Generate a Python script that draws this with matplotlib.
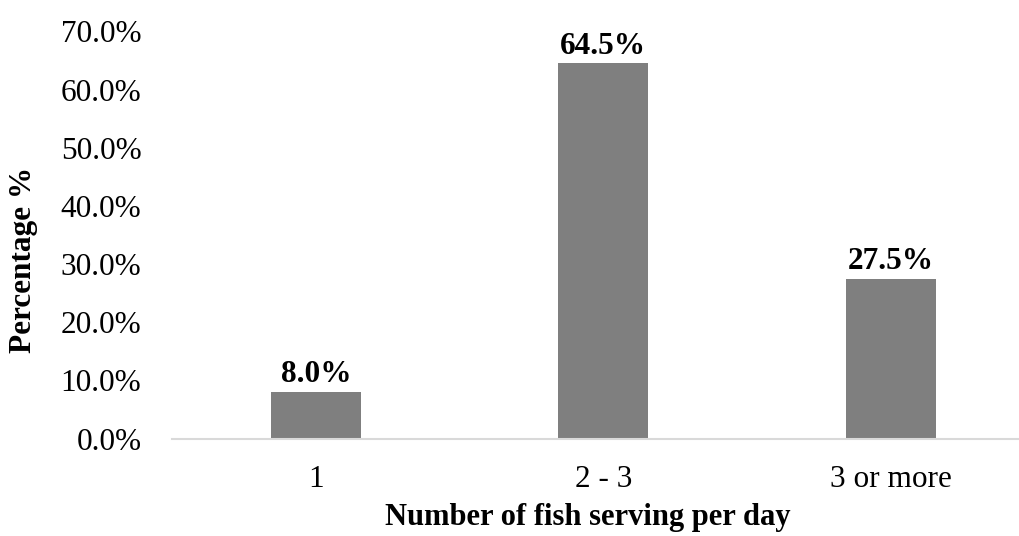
import matplotlib
matplotlib.use('Agg')
import matplotlib.pyplot as plt
from matplotlib.ticker import FuncFormatter

categories = ['1', '2 - 3', '3 or more']
percentages = [8.0, 64.5, 27.5]
y_ticks = [0, 10, 20, 30, 40, 50, 60, 70]

plt.rcParams['font.family'] = ['Liberation Serif', 'DejaVu Serif']

W, H = 1019, 536
fig = plt.figure(figsize=(W / 100, H / 100), dpi=100)
ax = fig.add_axes([172 / W, 97.5 / H, 862.5 / W, 407 / H])

x = list(range(len(categories)))
bars = ax.bar(x, percentages, width=0.313, color='#7f7f7f')

ax.set_xlim(-0.5, len(categories) - 0.5)
ax.set_ylim(0, 70)
ax.set_yticks(y_ticks)
ax.yaxis.set_major_formatter(FuncFormatter(lambda v, p: f'{v:.1f}%'))
ax.set_xticks(x)
ax.set_xticklabels(categories)

for s in ['top', 'right', 'left']:
    ax.spines[s].set_visible(False)
ax.spines['bottom'].set_color('#d9d9d9')
ax.spines['bottom'].set_linewidth(1.5)

ax.tick_params(axis='y', length=0, pad=22, labelsize=22.5, colors='#000000')
ax.tick_params(axis='x', length=0, pad=19, labelsize=22.5, colors='#000000')

for b, v in zip(bars, percentages):
    ax.annotate(f'{v:.1f}%', (b.get_x() + b.get_width() / 2, v),
                xytext=(0, 2), textcoords='offset points',
                ha='center', va='bottom', fontsize=22.5, fontweight='bold')

# axis titles placed in figure pixels
fig.text(588 / W, 1 - 517 / H, 'Number of fish serving per day',
         ha='center', va='center', fontsize=22, fontweight='bold')
fig.text(24 / W, 1 - 260 / H, 'Percentage %', rotation=90,
         ha='center', va='center', fontsize=22.5, fontweight='bold')

fig.savefig('out.png', dpi=100)
